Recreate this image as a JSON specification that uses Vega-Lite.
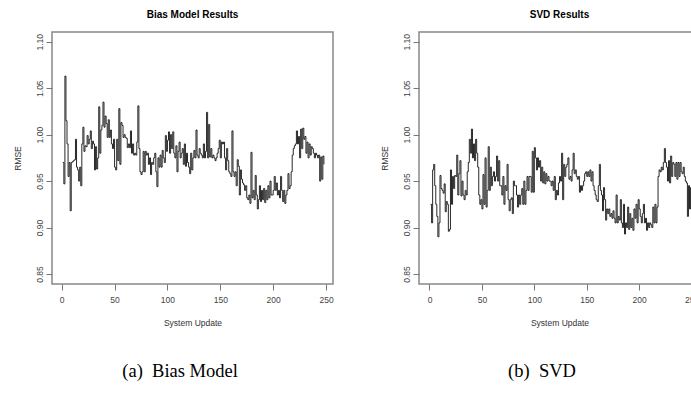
{
  "$schema": "https://vega.github.io/schema/vega-lite/v6.json",
  "padding": {"left": 12, "top": 9, "right": 0, "bottom": 5},
  "background": "white",
  "spacing": 45,
  "config": {
    "font": "Liberation Sans",
    "view": {"stroke": "#888888", "strokeWidth": 1.5},
    "axis": {"grid": false, "domain": false, "tickColor": "#777777", "tickSize": 6, "tickWidth": 1, "labelFont": "Liberation Sans", "labelFontSize": 8.5, "labelColor": "#444444", "titleFont": "Liberation Sans", "titleFontSize": 8.5, "titleFontWeight": "normal", "titleColor": "#333333"},
    "axisX": {"labelPadding": 5, "titlePadding": 15, "labelAngle": 0},
    "axisY": {"labelAngle": -90, "labelPadding": 2, "titlePadding": 13},
    "title": {"font": "Liberation Sans", "fontSize": 10, "fontWeight": "bold", "color": "#000000", "offset": 12}
  },
  "datasets": {
    "bias": [
      {"u":1,"r":0.970},{"u":2,"r":0.947},{"u":3,"r":1.063},{"u":4,"r":1.015},{"u":5,"r":0.990},{"u":6,"r":0.955},{"u":7,"r":0.970},{"u":8,"r":0.918},{"u":9,"r":0.970},{"u":10,"r":0.971},
      {"u":11,"r":0.972},{"u":12,"r":0.973},{"u":13,"r":0.995},{"u":14,"r":0.965},{"u":15,"r":0.962},{"u":16,"r":0.950},{"u":17,"r":0.965},{"u":18,"r":0.945},{"u":19,"r":0.990},{"u":20,"r":1.008},
      {"u":21,"r":0.982},{"u":22,"r":0.988},{"u":23,"r":0.987},{"u":24,"r":0.999},{"u":25,"r":0.990},{"u":26,"r":0.995},{"u":27,"r":1.004},{"u":28,"r":0.985},{"u":29,"r":0.993},{"u":30,"r":0.990},
      {"u":31,"r":0.962},{"u":32,"r":0.987},{"u":33,"r":0.963},{"u":34,"r":0.975},{"u":35,"r":1.030},{"u":36,"r":0.980},{"u":37,"r":1.005},{"u":38,"r":1.010},{"u":39,"r":1.035},{"u":40,"r":1.008},
      {"u":41,"r":1.020},{"u":42,"r":1.012},{"u":43,"r":0.997},{"u":44,"r":1.016},{"u":45,"r":0.997},{"u":46,"r":1.005},{"u":47,"r":0.990},{"u":48,"r":0.985},{"u":49,"r":0.995},{"u":50,"r":0.965},
      {"u":51,"r":0.962},{"u":52,"r":0.995},{"u":53,"r":0.972},{"u":54,"r":1.028},{"u":55,"r":0.968},{"u":56,"r":1.013},{"u":57,"r":1.010},{"u":58,"r":0.997},{"u":59,"r":1.000},{"u":60,"r":0.997},
      {"u":61,"r":0.996},{"u":62,"r":0.986},{"u":63,"r":0.990},{"u":64,"r":0.986},{"u":65,"r":1.004},{"u":66,"r":0.980},{"u":67,"r":0.990},{"u":68,"r":0.978},{"u":69,"r":0.980},{"u":70,"r":0.978},
      {"u":71,"r":0.992},{"u":72,"r":1.031},{"u":73,"r":0.985},{"u":74,"r":0.960},{"u":75,"r":0.957},{"u":76,"r":0.960},{"u":77,"r":0.982},{"u":78,"r":0.960},{"u":79,"r":0.982},{"u":80,"r":0.978},
      {"u":81,"r":0.980},{"u":82,"r":0.968},{"u":83,"r":0.975},{"u":84,"r":0.957},{"u":85,"r":0.970},{"u":86,"r":0.968},{"u":87,"r":0.975},{"u":88,"r":0.980},{"u":89,"r":0.960},{"u":90,"r":0.944},
      {"u":91,"r":0.975},{"u":92,"r":0.965},{"u":93,"r":0.978},{"u":94,"r":0.965},{"u":95,"r":0.983},{"u":96,"r":0.975},{"u":97,"r":0.970},{"u":98,"r":0.999},{"u":99,"r":0.982},{"u":100,"r":0.994},
      {"u":101,"r":1.003},{"u":102,"r":0.980},{"u":103,"r":1.000},{"u":104,"r":0.985},{"u":105,"r":1.003},{"u":106,"r":0.980},{"u":107,"r":0.975},{"u":108,"r":0.988},{"u":109,"r":0.960},{"u":110,"r":0.982},
      {"u":111,"r":0.992},{"u":112,"r":0.975},{"u":113,"r":0.980},{"u":114,"r":0.985},{"u":115,"r":0.968},{"u":116,"r":0.990},{"u":117,"r":0.966},{"u":118,"r":0.980},{"u":119,"r":0.970},{"u":120,"r":0.965},
      {"u":121,"r":0.958},{"u":122,"r":0.980},{"u":123,"r":0.962},{"u":124,"r":0.975},{"u":125,"r":0.983},{"u":126,"r":0.975},{"u":127,"r":1.005},{"u":128,"r":0.978},{"u":129,"r":0.975},{"u":130,"r":0.985},
      {"u":131,"r":0.980},{"u":132,"r":0.978},{"u":133,"r":0.975},{"u":134,"r":0.990},{"u":135,"r":0.975},{"u":136,"r":0.982},{"u":137,"r":1.024},{"u":138,"r":0.975},{"u":139,"r":1.011},{"u":140,"r":0.976},
      {"u":141,"r":0.985},{"u":142,"r":0.975},{"u":143,"r":0.978},{"u":144,"r":0.975},{"u":145,"r":0.972},{"u":146,"r":0.975},{"u":147,"r":0.980},{"u":148,"r":0.985},{"u":149,"r":0.994},{"u":150,"r":0.975},
      {"u":151,"r":0.992},{"u":152,"r":0.990},{"u":153,"r":0.992},{"u":154,"r":0.975},{"u":155,"r":0.962},{"u":156,"r":0.985},{"u":157,"r":0.972},{"u":158,"r":0.960},{"u":159,"r":0.958},{"u":160,"r":0.955},
      {"u":161,"r":1.004},{"u":162,"r":0.960},{"u":163,"r":0.955},{"u":164,"r":0.960},{"u":165,"r":0.945},{"u":166,"r":0.973},{"u":167,"r":0.966},{"u":168,"r":0.935},{"u":169,"r":0.962},{"u":170,"r":0.952},
      {"u":171,"r":0.948},{"u":172,"r":0.946},{"u":173,"r":0.940},{"u":174,"r":0.945},{"u":175,"r":0.932},{"u":176,"r":0.930},{"u":177,"r":0.935},{"u":178,"r":0.926},{"u":179,"r":0.981},{"u":180,"r":0.932},
      {"u":181,"r":0.940},{"u":182,"r":0.930},{"u":183,"r":0.956},{"u":184,"r":0.935},{"u":185,"r":0.920},{"u":186,"r":0.930},{"u":187,"r":0.945},{"u":188,"r":0.928},{"u":189,"r":0.940},{"u":190,"r":0.930},
      {"u":191,"r":0.942},{"u":192,"r":0.927},{"u":193,"r":0.940},{"u":194,"r":0.930},{"u":195,"r":0.945},{"u":196,"r":0.932},{"u":197,"r":0.950},{"u":198,"r":0.935},{"u":199,"r":0.935},{"u":200,"r":0.940},
      {"u":201,"r":0.955},{"u":202,"r":0.940},{"u":203,"r":0.948},{"u":204,"r":0.935},{"u":205,"r":0.940},{"u":206,"r":0.932},{"u":207,"r":0.955},{"u":208,"r":0.940},{"u":209,"r":0.928},{"u":210,"r":0.940},
      {"u":211,"r":0.926},{"u":212,"r":0.935},{"u":213,"r":0.940},{"u":214,"r":0.958},{"u":215,"r":0.942},{"u":216,"r":0.945},{"u":217,"r":0.960},{"u":218,"r":0.978},{"u":219,"r":0.985},{"u":220,"r":0.988},
      {"u":221,"r":0.990},{"u":222,"r":1.004},{"u":223,"r":0.990},{"u":224,"r":0.998},{"u":225,"r":0.975},{"u":226,"r":1.006},{"u":227,"r":0.985},{"u":228,"r":1.007},{"u":229,"r":0.995},{"u":230,"r":0.998},
      {"u":231,"r":0.980},{"u":232,"r":0.992},{"u":233,"r":0.975},{"u":234,"r":0.990},{"u":235,"r":0.978},{"u":236,"r":0.987},{"u":237,"r":0.985},{"u":238,"r":0.980},{"u":239,"r":0.975},{"u":240,"r":0.980},
      {"u":241,"r":0.978},{"u":242,"r":0.975},{"u":243,"r":0.978},{"u":244,"r":0.950},{"u":245,"r":0.976},{"u":246,"r":0.952},{"u":247,"r":0.977},{"u":248,"r":0.968}
    ],
    "svd": [
      {"u":1,"r":0.925},{"u":2,"r":0.905},{"u":3,"r":0.962},{"u":4,"r":0.968},{"u":5,"r":0.945},{"u":6,"r":0.925},{"u":7,"r":0.912},{"u":8,"r":0.890},{"u":9,"r":0.905},{"u":10,"r":0.956},
      {"u":11,"r":0.942},{"u":12,"r":0.940},{"u":13,"r":0.937},{"u":14,"r":0.947},{"u":15,"r":0.917},{"u":16,"r":0.928},{"u":17,"r":0.925},{"u":18,"r":0.896},{"u":19,"r":0.898},{"u":20,"r":0.962},
      {"u":21,"r":0.925},{"u":22,"r":0.955},{"u":23,"r":0.942},{"u":24,"r":0.956},{"u":25,"r":0.955},{"u":26,"r":0.978},{"u":27,"r":0.935},{"u":28,"r":0.958},{"u":29,"r":0.972},{"u":30,"r":0.934},
      {"u":31,"r":0.950},{"u":32,"r":0.935},{"u":33,"r":0.930},{"u":34,"r":0.940},{"u":35,"r":0.935},{"u":36,"r":0.960},{"u":37,"r":0.970},{"u":38,"r":0.995},{"u":39,"r":0.980},{"u":40,"r":1.006},
      {"u":41,"r":0.975},{"u":42,"r":0.990},{"u":43,"r":0.972},{"u":44,"r":0.995},{"u":45,"r":0.980},{"u":46,"r":0.965},{"u":47,"r":0.935},{"u":48,"r":0.925},{"u":49,"r":0.930},{"u":50,"r":0.920},
      {"u":51,"r":0.957},{"u":52,"r":0.925},{"u":53,"r":0.975},{"u":54,"r":0.922},{"u":55,"r":0.940},{"u":56,"r":0.987},{"u":57,"r":0.940},{"u":58,"r":0.965},{"u":59,"r":0.945},{"u":60,"r":0.955},
      {"u":61,"r":0.960},{"u":62,"r":0.950},{"u":63,"r":0.955},{"u":64,"r":0.977},{"u":65,"r":0.950},{"u":66,"r":0.972},{"u":67,"r":0.945},{"u":68,"r":0.945},{"u":69,"r":0.935},{"u":70,"r":0.955},
      {"u":71,"r":0.925},{"u":72,"r":0.945},{"u":73,"r":0.940},{"u":74,"r":0.968},{"u":75,"r":0.930},{"u":76,"r":0.918},{"u":77,"r":0.930},{"u":78,"r":0.932},{"u":79,"r":0.915},{"u":80,"r":0.950},
      {"u":81,"r":0.945},{"u":82,"r":0.945},{"u":83,"r":0.935},{"u":84,"r":0.922},{"u":85,"r":0.935},{"u":86,"r":0.925},{"u":87,"r":0.935},{"u":88,"r":0.942},{"u":89,"r":0.925},{"u":90,"r":0.950},
      {"u":91,"r":0.925},{"u":92,"r":0.940},{"u":93,"r":0.955},{"u":94,"r":0.940},{"u":95,"r":0.955},{"u":96,"r":0.955},{"u":97,"r":0.938},{"u":98,"r":0.982},{"u":99,"r":0.938},{"u":100,"r":0.986},
      {"u":101,"r":0.975},{"u":102,"r":0.962},{"u":103,"r":0.975},{"u":104,"r":0.965},{"u":105,"r":0.972},{"u":106,"r":0.950},{"u":107,"r":0.965},{"u":108,"r":0.948},{"u":109,"r":0.960},{"u":110,"r":0.947},
      {"u":111,"r":0.958},{"u":112,"r":0.950},{"u":113,"r":0.955},{"u":114,"r":0.950},{"u":115,"r":0.950},{"u":116,"r":0.945},{"u":117,"r":0.950},{"u":118,"r":0.940},{"u":119,"r":0.955},{"u":120,"r":0.930},
      {"u":121,"r":0.940},{"u":122,"r":0.935},{"u":123,"r":0.948},{"u":124,"r":0.955},{"u":125,"r":0.950},{"u":126,"r":0.980},{"u":127,"r":0.930},{"u":128,"r":0.968},{"u":129,"r":0.955},{"u":130,"r":0.965},
      {"u":131,"r":0.968},{"u":132,"r":0.975},{"u":133,"r":0.952},{"u":134,"r":0.955},{"u":135,"r":0.950},{"u":136,"r":0.962},{"u":137,"r":0.980},{"u":138,"r":0.958},{"u":139,"r":0.962},{"u":140,"r":0.955},
      {"u":141,"r":0.952},{"u":142,"r":0.955},{"u":143,"r":0.938},{"u":144,"r":0.945},{"u":145,"r":0.940},{"u":146,"r":0.945},{"u":147,"r":0.950},{"u":148,"r":0.958},{"u":149,"r":0.960},{"u":150,"r":0.955},
      {"u":151,"r":0.960},{"u":152,"r":0.955},{"u":153,"r":0.962},{"u":154,"r":0.950},{"u":155,"r":0.960},{"u":156,"r":0.945},{"u":157,"r":0.940},{"u":158,"r":0.935},{"u":159,"r":0.930},{"u":160,"r":0.928},
      {"u":161,"r":0.945},{"u":162,"r":0.968},{"u":163,"r":0.940},{"u":164,"r":0.935},{"u":165,"r":0.918},{"u":166,"r":0.943},{"u":167,"r":0.930},{"u":168,"r":0.908},{"u":169,"r":0.920},{"u":170,"r":0.915},
      {"u":171,"r":0.920},{"u":172,"r":0.912},{"u":173,"r":0.915},{"u":174,"r":0.910},{"u":175,"r":0.918},{"u":176,"r":0.910},{"u":177,"r":0.905},{"u":178,"r":0.935},{"u":179,"r":0.905},{"u":180,"r":0.912},
      {"u":181,"r":0.908},{"u":182,"r":0.930},{"u":183,"r":0.905},{"u":184,"r":0.900},{"u":185,"r":0.925},{"u":186,"r":0.893},{"u":187,"r":0.905},{"u":188,"r":0.900},{"u":189,"r":0.922},{"u":190,"r":0.898},
      {"u":191,"r":0.915},{"u":192,"r":0.900},{"u":193,"r":0.910},{"u":194,"r":0.897},{"u":195,"r":0.920},{"u":196,"r":0.910},{"u":197,"r":0.925},{"u":198,"r":0.905},{"u":199,"r":0.930},{"u":200,"r":0.920},
      {"u":201,"r":0.912},{"u":202,"r":0.905},{"u":203,"r":0.915},{"u":204,"r":0.925},{"u":205,"r":0.905},{"u":206,"r":0.910},{"u":207,"r":0.897},{"u":208,"r":0.905},{"u":209,"r":0.900},{"u":210,"r":0.905},
      {"u":211,"r":0.903},{"u":212,"r":0.900},{"u":213,"r":0.922},{"u":214,"r":0.905},{"u":215,"r":0.925},{"u":216,"r":0.905},{"u":217,"r":0.922},{"u":218,"r":0.955},{"u":219,"r":0.962},{"u":220,"r":0.960},
      {"u":221,"r":0.965},{"u":222,"r":0.962},{"u":223,"r":0.970},{"u":224,"r":0.985},{"u":225,"r":0.970},{"u":226,"r":0.965},{"u":227,"r":0.950},{"u":228,"r":0.972},{"u":229,"r":0.948},{"u":230,"r":0.977},
      {"u":231,"r":0.955},{"u":232,"r":0.970},{"u":233,"r":0.968},{"u":234,"r":0.955},{"u":235,"r":0.970},{"u":236,"r":0.952},{"u":237,"r":0.970},{"u":238,"r":0.955},{"u":239,"r":0.970},{"u":240,"r":0.960},
      {"u":241,"r":0.958},{"u":242,"r":0.965},{"u":243,"r":0.955},{"u":244,"r":0.950},{"u":245,"r":0.948},{"u":246,"r":0.912},{"u":247,"r":0.945},{"u":248,"r":0.920},{"u":249,"r":0.943},{"u":250,"r":0.940},
      {"u":251,"r":0.938},{"u":252,"r":0.935}
    ]
  },
  "hconcat": [
    {
      "title": {"text": "(a)\u00a0\u00a0Bias Model", "orient": "bottom", "anchor": "middle", "font": "Liberation Serif", "fontSize": 18.5, "fontWeight": "normal", "color": "#000000", "offset": 34, "dx": 7},
      "vconcat": [
        {
          "title": {"text": "Bias Model Results"},
          "width": 281,
          "height": 252,
          "data": {"name": "bias"},
          "mark": {"type": "line", "interpolate": "step-after", "color": "#111111", "strokeWidth": 0.9},
          "encoding": {
            "x": {"field": "u", "type": "quantitative", "scale": {"domain": [-9.2, 256.6], "nice": false, "zero": false}, "axis": {"values": [0, 50, 100, 150, 200, 250], "title": "System Update"}},
            "y": {"field": "r", "type": "quantitative", "scale": {"domain": [0.8392, 1.1105], "nice": false, "zero": false}, "axis": {"values": [0.85, 0.9, 0.95, 1.0, 1.05, 1.1], "format": ".2f", "title": "RMSE"}}
          }
        }
      ]
    },
    {
      "title": {"text": "(b)\u00a0\u00a0SVD", "orient": "bottom", "anchor": "middle", "font": "Liberation Serif", "fontSize": 18.5, "fontWeight": "normal", "color": "#000000", "offset": 34, "dx": 2},
      "vconcat": [
        {
          "title": {"text": "SVD Results"},
          "width": 281,
          "height": 252,
          "data": {"name": "svd"},
          "mark": {"type": "line", "interpolate": "step-after", "color": "#111111", "strokeWidth": 0.9, "clip": true},
          "encoding": {
            "x": {"field": "u", "type": "quantitative", "scale": {"domain": [-10, 258], "nice": false, "zero": false}, "axis": {"values": [0, 50, 100, 150, 200, 250], "title": "System Update"}},
            "y": {"field": "r", "type": "quantitative", "scale": {"domain": [0.8392, 1.1105], "nice": false, "zero": false}, "axis": {"values": [0.85, 0.9, 0.95, 1.0, 1.05, 1.1], "format": ".2f", "title": "RMSE"}}
          }
        }
      ]
    }
  ]
}
